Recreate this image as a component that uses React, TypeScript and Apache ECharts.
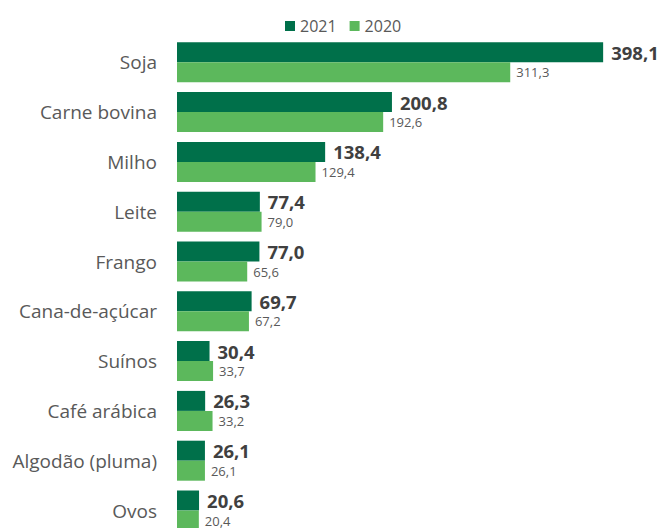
import React, { useEffect, useRef } from "react";
import * as echarts from "echarts";

const categories = [
  "Soja",
  "Carne bovina",
  "Milho",
  "Leite",
  "Frango",
  "Cana-de-açúcar",
  "Suínos",
  "Café arábica",
  "Algodão (pluma)",
  "Ovos",
];
const values2021 = [398.1, 200.8, 138.4, 77.4, 77.0, 69.7, 30.4, 26.3, 26.1, 20.6];
const values2020 = [311.3, 192.6, 129.4, 79.0, 65.6, 67.2, 33.7, 33.2, 26.1, 20.4];

const fmt = (v: number) => v.toFixed(1).replace(".", ",");
const FONT = "'Open Sans', 'Noto Sans', sans-serif";

export default function App() {
  const ref = useRef<HTMLDivElement>(null);
  useEffect(() => {
    if (!ref.current) return;
    const chart = echarts.init(ref.current, null, { renderer: "svg" });
    chart.setOption({
      animation: false,
      backgroundColor: "#ffffff",
      legend: {
        data: ["2021", "2020"],
        left: 280,
        top: 13,
        itemWidth: 10,
        itemHeight: 10,
        itemGap: 13,
        icon: "rect",
        textStyle: { color: "#595959", fontSize: 16, fontFamily: FONT },
      },
      grid: { left: 177, top: 37.4, width: 471, height: 498 },
      xAxis: {
        type: "value",
        min: 0,
        max: 440,
        show: false,
        splitLine: { show: false },
      },
      yAxis: {
        type: "category",
        data: categories,
        inverse: true,
        axisLine: { show: false },
        axisTick: { show: false },
        axisLabel: {
          color: "#595959",
          fontSize: 19,
          fontFamily: FONT,
          margin: 20,
        },
      },
      series: [
        {
          name: "2021",
          type: "bar",
          data: values2021,
          barWidth: 20,
          barGap: "0%",
          itemStyle: { color: "#00704A" },
          label: {
            show: true,
            position: "right",
            distance: 8,
            formatter: (p: any) => fmt(p.value),
            color: "#404040",
            fontSize: 18.5,
            fontWeight: "bold",
            fontFamily: FONT,
            lineHeight: 20,
          },
        },
        {
          name: "2020",
          type: "bar",
          data: values2020,
          barWidth: 20,
          barGap: "0%",
          itemStyle: { color: "#5CB85C" },
          label: {
            show: true,
            position: "right",
            distance: 6,
            formatter: (p: any) => fmt(p.value),
            color: "#595959",
            fontSize: 13,
            fontFamily: FONT,
            lineHeight: 14,
          },
        },
      ],
    });
    return () => chart.dispose();
  }, []);
  return (
    <div
      ref={ref}
      style={{ position: "fixed", left: 0, top: 0, width: 664, height: 545 }}
    />
  );
}
